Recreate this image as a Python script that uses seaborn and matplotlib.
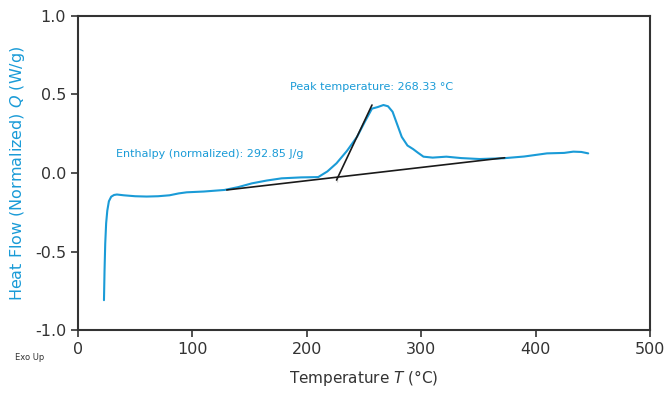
import numpy as np
import pandas as pd
import matplotlib
matplotlib.use("Agg")
import matplotlib.pyplot as plt
import seaborn as sns

# ── Data ─────────────────────────────────────────────────────────────────────
temperature = [22.7, 23.2, 23.8, 24.6, 25.6, 27.0, 29.0, 31.5, 34.0, 40, 50, 60,
               70, 80, 88, 95, 110, 128, 140, 152, 165, 178, 195, 210, 218,
               226, 235, 244, 251, 257, 262, 267, 271, 275, 279, 283, 288, 293,
               297, 302, 310, 322, 335, 351, 372, 390, 410, 425, 433, 440, 446]
heat_flow = [-0.81, -0.62, -0.45, -0.32, -0.24, -0.18, -0.151, -0.140, -0.137,
             -0.142, -0.148, -0.150, -0.148, -0.142, -0.130, -0.123, -0.118,
             -0.108, -0.090, -0.066, -0.048, -0.034, -0.028, -0.026, 0.010,
             0.062, 0.140, 0.231, 0.330, 0.410, 0.420, 0.433, 0.425, 0.390,
             0.310, 0.230, 0.175, 0.152, 0.130, 0.104, 0.098, 0.104, 0.095,
             0.089, 0.094, 0.105, 0.125, 0.128, 0.136, 0.134, 0.125]

baseline_t = [130, 373]
baseline_q = [-0.108, 0.097]
tangent_t = [226, 257]
tangent_q = [-0.045, 0.433]
marker_t = [226, 226]
marker_q = [-0.055, -0.024]

x_ticks = [0, 100, 200, 300, 400, 500]
y_ticks = [-1.0, -0.5, 0.0, 0.5, 1.0]

peak_label = "Peak temperature: 268.33 °C"
enthalpy_label = "Enthalpy (normalized): 292.85 J/g"

df = pd.DataFrame({"T": temperature, "Q": heat_flow})

# ── Plot ─────────────────────────────────────────────────────────────────────
BLUE, DARK = "#1a9bd7", "#333333"
sns.set_theme(style="white")
plt.rcParams["font.family"] = ["DejaVu Sans"]

fig = plt.figure(figsize=(6.65, 3.93), dpi=100)
ax = fig.add_axes([0.1173, 0.1603, 0.8601, 0.799])

sns.lineplot(data=df, x="T", y="Q", color=BLUE, lw=1.5, ax=ax, sort=False)
sns.lineplot(x=baseline_t, y=baseline_q, color="#1a1a1a", lw=1.2, ax=ax)
sns.lineplot(x=tangent_t, y=tangent_q, color="#1a1a1a", lw=1.2, ax=ax)
sns.lineplot(x=marker_t, y=marker_q, color="#1a1a1a", lw=1.5, ax=ax)

ax.text(185, 0.55, peak_label, color=BLUE, fontsize=8, va="center")
ax.text(33, 0.12, enthalpy_label, color=BLUE, fontsize=8, va="center")

ax.set_xlim(0, 500)
ax.set_ylim(-1.0, 1.0)
ax.set_xticks(x_ticks)
ax.set_yticks(y_ticks)
ax.set_xticklabels([str(v) for v in x_ticks])
ax.set_yticklabels([f"{v:.1f}" for v in y_ticks])
ax.tick_params(direction="out", length=5, width=1.2, color=DARK,
               labelcolor=DARK, labelsize=11.5, bottom=True, left=True)
for s in ax.spines.values():
    s.set_color(DARK)
    s.set_linewidth(1.5)

ax.set_xlabel("Temperature $\\it{T}$ (°C)", fontsize=11, color=DARK, labelpad=8)
ax.set_ylabel("Heat Flow (Normalized) $\\it{Q}$ (W/g)", fontsize=11.5, color=BLUE,
              labelpad=6)
fig.text(15 / 665, 1 - 358 / 393, "Exo Up", fontsize=6, color=DARK, va="center")

plt.savefig("out.png", dpi=100)
